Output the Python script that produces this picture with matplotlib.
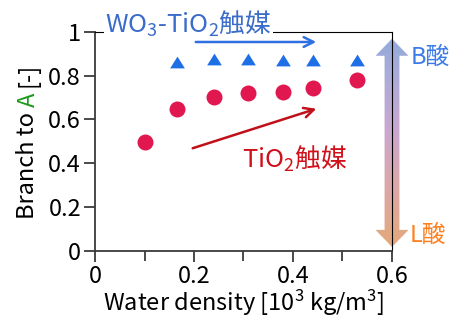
import numpy as np
import matplotlib
matplotlib.use('Agg')
import matplotlib.pyplot as plt
from matplotlib.colors import LinearSegmentedColormap
from matplotlib.patches import Polygon

plt.rcParams['font.family'] = ['Noto Sans CJK JP', 'DejaVu Sans']
plt.rcParams['mathtext.fontset'] = 'custom'
plt.rcParams['mathtext.rm'] = 'Noto Sans CJK JP'
plt.rcParams['mathtext.it'] = 'Noto Sans CJK JP'
plt.rcParams['mathtext.default'] = 'rm'

# branch ratio vs water density
density_tio2 = [0.10, 0.165, 0.24, 0.31, 0.38, 0.44, 0.53]
branch_tio2 = [0.495, 0.645, 0.70, 0.72, 0.725, 0.745, 0.78]
density_wo3 = [0.165, 0.24, 0.31, 0.38, 0.44, 0.53]
branch_wo3 = [0.86, 0.875, 0.875, 0.87, 0.87, 0.87]
xticks = [0, 0.2, 0.4, 0.6]
xticklabels = ['0', '0.2', '0.4', '0.6']
xminor = [0.1, 0.3, 0.5]
yticks = [0, 0.2, 0.4, 0.6, 0.8, 1]
yticklabels = ['0', '0.2', '0.4', '0.6', '0.8', '1']

FS = 17
W, H = 464, 320
fig = plt.figure(figsize=(W/100, H/100), dpi=100)
ax = fig.add_axes([95/W, 69.3/H, 297/W, 219/H], zorder=1)
ax.patch.set_alpha(0)

# acid-site double arrow behind the right spine
arr = fig.add_axes([375.5/W, 69.3/H, 33/W, 219/H], zorder=0)
arr.set_xlim(-1, 1); arr.set_ylim(0, 1); arr.axis('off')
top, bot, hl, bw = 0.968, 0.017, 0.078, 0.45
verts = [(0, top), (1, top-hl), (bw, top-hl), (bw, bot+hl), (1, bot+hl),
         (0, bot), (-1, bot+hl), (-bw, bot+hl), (-bw, top-hl), (-1, top-hl)]
shape = Polygon(verts, closed=True, fc='none', ec='none')
arr.add_patch(shape)
cmap = LinearSegmentedColormap.from_list('acid', [
    (0.0, '#E3A474'), (0.3, '#DAA2A5'), (0.55, '#C8A2CC'),
    (0.8, '#AAA8D6'), (1.0, '#8CA7D8')])
grad = np.linspace(0, 1, 256).reshape(-1, 1)
im = arr.imshow(grad, cmap=cmap, extent=[-1, 1, bot, top], origin='lower',
                aspect='auto', alpha=0.95)
im.set_clip_path(shape)

ax.plot(density_tio2, branch_tio2, 'o', ms=11.5, color='#E0184F', mec='none')
tri = [(-1, -0.8), (1, -0.8), (0, 0.8)]
ax.plot(density_wo3, branch_wo3, marker=tri, ls='none', ms=10.6,
        color='#1E6FE6', mec='none')

ax.set_xlim(0, 0.6)
ax.set_ylim(0, 1)
ax.set_xticks(xticks)
ax.set_xticklabels(xticklabels)
ax.set_xticks(xminor, minor=True)
ax.set_yticks(yticks)
ax.set_yticklabels(yticklabels)
ax.tick_params(which='both', direction='out', width=1.3, color='#3a3a3a',
               labelsize=FS, pad=2)
ax.tick_params(which='major', length=8)
ax.tick_params(which='minor', length=7)
for s in ['left', 'bottom']:
    ax.spines[s].set_color('#3a3a3a'); ax.spines[s].set_linewidth(1.3)
for s in ['top', 'right']:
    ax.spines[s].set_color('black'); ax.spines[s].set_linewidth(0.8)

ax.set_xlabel('Water density [10$^3$ kg/m$^3$]', fontsize=FS, labelpad=0)

# y label with a green "A"
fig.canvas.draw()
rend = fig.canvas.get_renderer()
def tw(s):
    t = fig.text(0, 0, s, fontsize=FS)
    w = t.get_window_extent(rend).width
    t.remove()
    return w
parts = ['Branch to', 'A', '[-]']
full = 'Branch to A [-]'
wf = tw(full)
offs = [0, tw('Branch to A') - tw('A'), wf - tw('[-]')]
cy = (69.3 + 219/2) - wf/2
for p, o, c in zip(parts, offs, ['black', '#1A9A1A', 'black']):
    fig.text(28/W, (cy + o)/H, p, fontsize=FS, color=c, rotation=90,
             rotation_mode='anchor', ha='left', va='center')

# catalyst annotations
ax.text(0.02, 0.994, 'WO$_3$-TiO$_2$触媒', fontsize=18.5, color='#3B6CC9',
        va='baseline', ha='left', clip_on=False,
        bbox=dict(fc='white', ec='none', pad=1))
ax.annotate('', xy=(0.4525, 0.953), xytext=(0.198, 0.953),
            arrowprops=dict(arrowstyle='->,head_length=0.7,head_width=0.35',
                            color='#2F6FE0', lw=1.8), annotation_clip=False)
ax.annotate('', xy=(0.4525, 0.652), xytext=(0.192, 0.464),
            arrowprops=dict(arrowstyle='->,head_length=0.7,head_width=0.35',
                            color='#C0101A', lw=1.8))
ax.text(0.296, 0.378, 'TiO$_2$触媒', fontsize=18.5, color='#D0101A',
        va='baseline', ha='left')

ax.text(1.064, 0.884, 'B酸', transform=ax.transAxes, fontsize=FS,
        color='#3B7BE8', va='center', ha='left', clip_on=False)
ax.text(1.06, 0.07, 'L酸', transform=ax.transAxes, fontsize=FS,
        color='#FF7F1E', va='center', ha='left', clip_on=False)

fig.savefig('out.png', dpi=100, facecolor='white')
